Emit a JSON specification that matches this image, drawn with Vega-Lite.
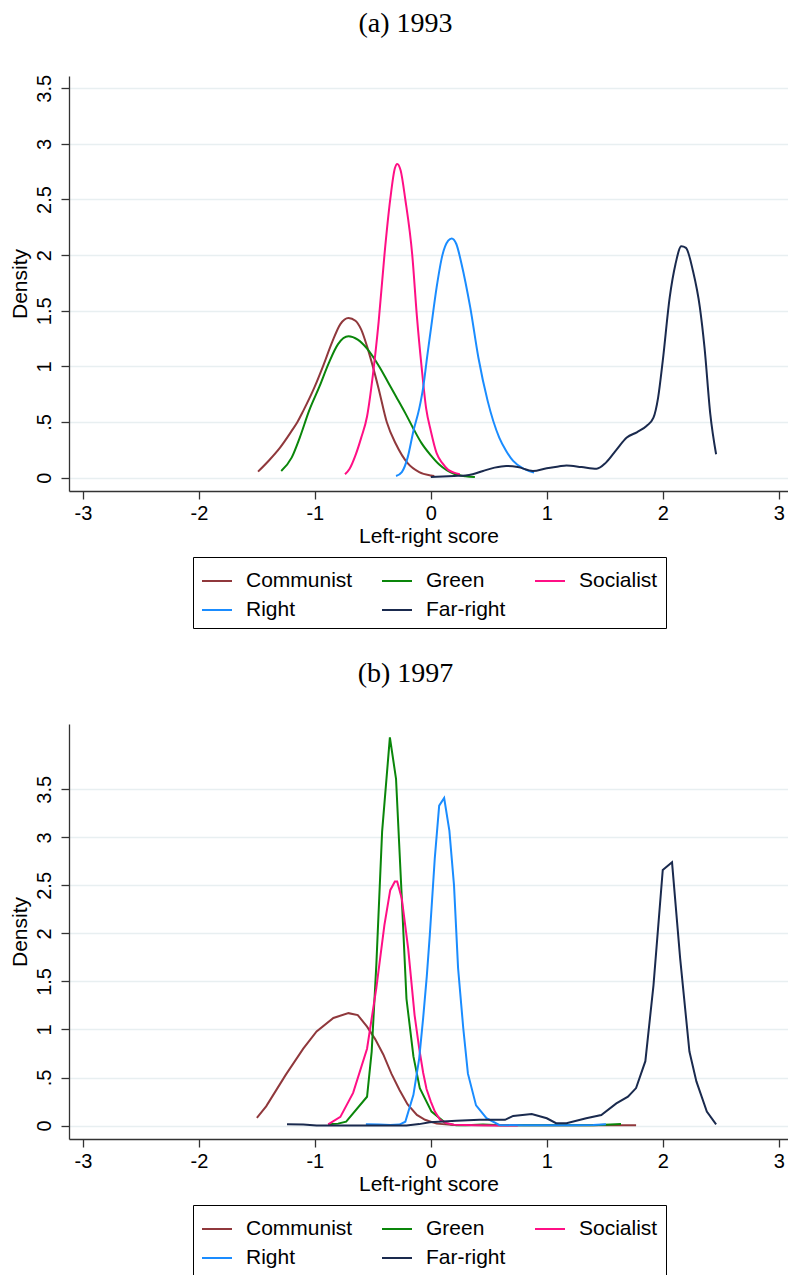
{
  "$schema": "https://vega.github.io/schema/vega-lite/v6.json",
  "background": "white",
  "padding": {"left": 9, "top": 10, "right": 0, "bottom": 0},
  "datasets": {
    "a": [
      {"p":"Communist","x":-1.49,"y":0.054},{"p":"Communist","x":-1.4,"y":0.15},{"p":"Communist","x":-1.3,"y":0.27},{"p":"Communist","x":-1.2,"y":0.42},{"p":"Communist","x":-1.15,"y":0.5},{"p":"Communist","x":-1.1,"y":0.6},{"p":"Communist","x":-1.0,"y":0.82},{"p":"Communist","x":-0.93,"y":1.0},{"p":"Communist","x":-0.85,"y":1.22},{"p":"Communist","x":-0.78,"y":1.38},{"p":"Communist","x":-0.71,"y":1.435},{"p":"Communist","x":-0.65,"y":1.41},{"p":"Communist","x":-0.6,"y":1.33},{"p":"Communist","x":-0.55,"y":1.18},{"p":"Communist","x":-0.5,"y":1.0},{"p":"Communist","x":-0.45,"y":0.8},{"p":"Communist","x":-0.38,"y":0.5},{"p":"Communist","x":-0.3,"y":0.3},{"p":"Communist","x":-0.2,"y":0.13},{"p":"Communist","x":-0.1,"y":0.05},{"p":"Communist","x":0.0,"y":0.02},{"p":"Communist","x":0.03,"y":0.015},
      {"p":"Green","x":-1.29,"y":0.06},{"p":"Green","x":-1.2,"y":0.18},{"p":"Green","x":-1.13,"y":0.36},{"p":"Green","x":-1.05,"y":0.6},{"p":"Green","x":-0.96,"y":0.82},{"p":"Green","x":-0.88,"y":1.03},{"p":"Green","x":-0.8,"y":1.2},{"p":"Green","x":-0.71,"y":1.27},{"p":"Green","x":-0.63,"y":1.24},{"p":"Green","x":-0.55,"y":1.16},{"p":"Green","x":-0.44,"y":0.99},{"p":"Green","x":-0.37,"y":0.86},{"p":"Green","x":-0.3,"y":0.73},{"p":"Green","x":-0.22,"y":0.58},{"p":"Green","x":-0.15,"y":0.44},{"p":"Green","x":-0.08,"y":0.31},{"p":"Green","x":0.0,"y":0.2},{"p":"Green","x":0.07,"y":0.12},{"p":"Green","x":0.14,"y":0.065},{"p":"Green","x":0.2,"y":0.035},{"p":"Green","x":0.3,"y":0.012},{"p":"Green","x":0.38,"y":0.005},
      {"p":"Socialist","x":-0.74,"y":0.03},{"p":"Socialist","x":-0.7,"y":0.08},{"p":"Socialist","x":-0.65,"y":0.2},{"p":"Socialist","x":-0.6,"y":0.36},{"p":"Socialist","x":-0.55,"y":0.55},{"p":"Socialist","x":-0.5,"y":0.92},{"p":"Socialist","x":-0.45,"y":1.4},{"p":"Socialist","x":-0.4,"y":2.0},{"p":"Socialist","x":-0.35,"y":2.5},{"p":"Socialist","x":-0.31,"y":2.78},{"p":"Socialist","x":-0.29,"y":2.82},{"p":"Socialist","x":-0.26,"y":2.76},{"p":"Socialist","x":-0.22,"y":2.5},{"p":"Socialist","x":-0.16,"y":2.0},{"p":"Socialist","x":-0.12,"y":1.45},{"p":"Socialist","x":-0.08,"y":1.0},{"p":"Socialist","x":-0.04,"y":0.62},{"p":"Socialist","x":0.0,"y":0.42},{"p":"Socialist","x":0.05,"y":0.22},{"p":"Socialist","x":0.1,"y":0.13},{"p":"Socialist","x":0.15,"y":0.07},{"p":"Socialist","x":0.2,"y":0.045},{"p":"Socialist","x":0.25,"y":0.03},
      {"p":"Right","x":-0.3,"y":0.015},{"p":"Right","x":-0.25,"y":0.05},{"p":"Right","x":-0.2,"y":0.18},{"p":"Right","x":-0.15,"y":0.42},{"p":"Right","x":-0.1,"y":0.62},{"p":"Right","x":-0.066,"y":0.81},{"p":"Right","x":-0.03,"y":1.1},{"p":"Right","x":0.0,"y":1.33},{"p":"Right","x":0.05,"y":1.71},{"p":"Right","x":0.1,"y":2.0},{"p":"Right","x":0.15,"y":2.13},{"p":"Right","x":0.18,"y":2.15},{"p":"Right","x":0.22,"y":2.1},{"p":"Right","x":0.265,"y":1.92},{"p":"Right","x":0.3,"y":1.75},{"p":"Right","x":0.34,"y":1.53},{"p":"Right","x":0.41,"y":1.08},{"p":"Right","x":0.49,"y":0.69},{"p":"Right","x":0.59,"y":0.36},{"p":"Right","x":0.65,"y":0.24},{"p":"Right","x":0.71,"y":0.15},{"p":"Right","x":0.8,"y":0.08},{"p":"Right","x":0.89,"y":0.045},
      {"p":"Far-right","x":0.0,"y":0.005},{"p":"Far-right","x":0.1,"y":0.01},{"p":"Far-right","x":0.2,"y":0.015},{"p":"Far-right","x":0.3,"y":0.02},{"p":"Far-right","x":0.36,"y":0.03},{"p":"Far-right","x":0.45,"y":0.06},{"p":"Far-right","x":0.55,"y":0.09},{"p":"Far-right","x":0.65,"y":0.105},{"p":"Far-right","x":0.75,"y":0.095},{"p":"Far-right","x":0.88,"y":0.06},{"p":"Far-right","x":1.0,"y":0.085},{"p":"Far-right","x":1.1,"y":0.1},{"p":"Far-right","x":1.17,"y":0.11},{"p":"Far-right","x":1.3,"y":0.095},{"p":"Far-right","x":1.43,"y":0.08},{"p":"Far-right","x":1.51,"y":0.135},{"p":"Far-right","x":1.6,"y":0.25},{"p":"Far-right","x":1.69,"y":0.36},{"p":"Far-right","x":1.78,"y":0.41},{"p":"Far-right","x":1.86,"y":0.465},{"p":"Far-right","x":1.92,"y":0.54},{"p":"Far-right","x":1.96,"y":0.72},{"p":"Far-right","x":2.0,"y":1.05},{"p":"Far-right","x":2.06,"y":1.62},{"p":"Far-right","x":2.11,"y":1.92},{"p":"Far-right","x":2.16,"y":2.08},{"p":"Far-right","x":2.2,"y":2.065},{"p":"Far-right","x":2.26,"y":1.86},{"p":"Far-right","x":2.32,"y":1.53},{"p":"Far-right","x":2.36,"y":1.17},{"p":"Far-right","x":2.41,"y":0.57},{"p":"Far-right","x":2.46,"y":0.21}
    ],
    "b": [
      {"p":"Communist","x":-1.5,"y":0.08},{"p":"Communist","x":-1.42,"y":0.2},{"p":"Communist","x":-1.25,"y":0.53},{"p":"Communist","x":-1.1,"y":0.8},{"p":"Communist","x":-0.985,"y":0.98},{"p":"Communist","x":-0.84,"y":1.12},{"p":"Communist","x":-0.71,"y":1.17},{"p":"Communist","x":-0.63,"y":1.15},{"p":"Communist","x":-0.55,"y":1.03},{"p":"Communist","x":-0.48,"y":0.9},{"p":"Communist","x":-0.41,"y":0.74},{"p":"Communist","x":-0.34,"y":0.54},{"p":"Communist","x":-0.27,"y":0.37},{"p":"Communist","x":-0.2,"y":0.22},{"p":"Communist","x":-0.12,"y":0.11},{"p":"Communist","x":-0.05,"y":0.06},{"p":"Communist","x":0.05,"y":0.02},{"p":"Communist","x":0.2,"y":0.005},{"p":"Communist","x":0.5,"y":0.002},{"p":"Communist","x":1.0,"y":0.002},{"p":"Communist","x":1.5,"y":0.003},{"p":"Communist","x":1.77,"y":0.003},
      {"p":"Green","x":-0.885,"y":0.013},{"p":"Green","x":-0.8,"y":0.02},{"p":"Green","x":-0.73,"y":0.04},{"p":"Green","x":-0.55,"y":0.3},{"p":"Green","x":-0.51,"y":0.77},{"p":"Green","x":-0.47,"y":1.67},{"p":"Green","x":-0.42,"y":3.06},{"p":"Green","x":-0.353,"y":4.04},{"p":"Green","x":-0.3,"y":3.61},{"p":"Green","x":-0.25,"y":2.36},{"p":"Green","x":-0.21,"y":1.32},{"p":"Green","x":-0.15,"y":0.72},{"p":"Green","x":-0.095,"y":0.39},{"p":"Green","x":0.006,"y":0.145},{"p":"Green","x":0.13,"y":0.024},{"p":"Green","x":0.22,"y":0.002},{"p":"Green","x":0.3,"y":0.003},{"p":"Green","x":0.45,"y":0.012},{"p":"Green","x":0.6,"y":0.003},{"p":"Green","x":1.0,"y":0.002},{"p":"Green","x":1.4,"y":0.003},{"p":"Green","x":1.55,"y":0.012},{"p":"Green","x":1.64,"y":0.017},
      {"p":"Socialist","x":-0.885,"y":0.013},{"p":"Socialist","x":-0.78,"y":0.09},{"p":"Socialist","x":-0.67,"y":0.34},{"p":"Socialist","x":-0.55,"y":0.8},{"p":"Socialist","x":-0.47,"y":1.43},{"p":"Socialist","x":-0.4,"y":2.09},{"p":"Socialist","x":-0.35,"y":2.45},{"p":"Socialist","x":-0.31,"y":2.54},{"p":"Socialist","x":-0.29,"y":2.54},{"p":"Socialist","x":-0.25,"y":2.36},{"p":"Socialist","x":-0.195,"y":1.84},{"p":"Socialist","x":-0.14,"y":1.15},{"p":"Socialist","x":-0.1,"y":0.8},{"p":"Socialist","x":-0.066,"y":0.55},{"p":"Socialist","x":-0.037,"y":0.38},{"p":"Socialist","x":0.0,"y":0.25},{"p":"Socialist","x":0.035,"y":0.145},{"p":"Socialist","x":0.08,"y":0.06},{"p":"Socialist","x":0.135,"y":0.024},{"p":"Socialist","x":0.2,"y":0.008},{"p":"Socialist","x":0.4,"y":0.002},{"p":"Socialist","x":0.6,"y":0.0},{"p":"Socialist","x":0.75,"y":0.0},
      {"p":"Right","x":-0.56,"y":0.013},{"p":"Right","x":-0.45,"y":0.01},{"p":"Right","x":-0.35,"y":0.005},{"p":"Right","x":-0.27,"y":0.01},{"p":"Right","x":-0.22,"y":0.04},{"p":"Right","x":-0.15,"y":0.32},{"p":"Right","x":-0.1,"y":0.7},{"p":"Right","x":-0.066,"y":1.12},{"p":"Right","x":-0.035,"y":1.55},{"p":"Right","x":-0.009,"y":1.98},{"p":"Right","x":0.034,"y":2.78},{"p":"Right","x":0.072,"y":3.33},{"p":"Right","x":0.115,"y":3.41},{"p":"Right","x":0.16,"y":3.07},{"p":"Right","x":0.2,"y":2.5},{"p":"Right","x":0.235,"y":1.64},{"p":"Right","x":0.28,"y":1.01},{"p":"Right","x":0.32,"y":0.54},{"p":"Right","x":0.39,"y":0.21},{"p":"Right","x":0.48,"y":0.076},{"p":"Right","x":0.59,"y":0.006},{"p":"Right","x":0.8,"y":0.002},{"p":"Right","x":1.0,"y":0.003},{"p":"Right","x":1.2,"y":0.004},{"p":"Right","x":1.4,"y":0.006},{"p":"Right","x":1.51,"y":0.013},
      {"p":"Far-right","x":-1.24,"y":0.013},{"p":"Far-right","x":-1.1,"y":0.01},{"p":"Far-right","x":-0.985,"y":0.0},{"p":"Far-right","x":-0.6,"y":0.0},{"p":"Far-right","x":-0.21,"y":0.0},{"p":"Far-right","x":-0.1,"y":0.015},{"p":"Far-right","x":-0.01,"y":0.035},{"p":"Far-right","x":0.22,"y":0.05},{"p":"Far-right","x":0.42,"y":0.06},{"p":"Far-right","x":0.64,"y":0.06},{"p":"Far-right","x":0.71,"y":0.1},{"p":"Far-right","x":0.87,"y":0.12},{"p":"Far-right","x":1.0,"y":0.076},{"p":"Far-right","x":1.08,"y":0.024},{"p":"Far-right","x":1.17,"y":0.024},{"p":"Far-right","x":1.34,"y":0.076},{"p":"Far-right","x":1.47,"y":0.11},{"p":"Far-right","x":1.6,"y":0.23},{"p":"Far-right","x":1.7,"y":0.3},{"p":"Far-right","x":1.77,"y":0.39},{"p":"Far-right","x":1.85,"y":0.67},{"p":"Far-right","x":1.92,"y":1.46},{"p":"Far-right","x":2.0,"y":2.66},{"p":"Far-right","x":2.08,"y":2.74},{"p":"Far-right","x":2.15,"y":1.74},{"p":"Far-right","x":2.23,"y":0.77},{"p":"Far-right","x":2.29,"y":0.46},{"p":"Far-right","x":2.38,"y":0.145},{"p":"Far-right","x":2.46,"y":0.013}
    ]
  },
  "spacing": 31,
  "vconcat": [
    {
      "title": {"text": "(a) 1993", "dx": -23},
      "width": 719,
      "height": 415,
      "data": {"name": "a"},
      "mark": {"type": "line", "strokeWidth": 2, "interpolate": "monotone"},
      "encoding": {
        "x": {"field": "x", "type": "quantitative", "title": "Left-right score", "scale": {"domain": [-3.12, 3.08], "nice": false, "zero": false},
              "axis": {"values": [-3,-2,-1,0,1,2,3], "labelExpr": "datum.value < 0 ? '-' + abs(datum.value) : '' + datum.value"}},
        "y": {"field": "y", "type": "quantitative", "title": "Density", "scale": {"domain": [-0.12, 3.61], "nice": false, "zero": false},
              "axis": {"values": [0,0.5,1,1.5,2,2.5,3,3.5], "labelExpr": "datum.value == 0.5 ? '.5' : format(datum.value, '~g')"}},
        "color": {"field": "p", "type": "nominal", "sort": null,
                  "scale": {"domain": ["Communist","Green","Socialist","Right","Far-right"], "range": ["#90383c","#0a860a","#ff0f85","#1a8cff","#1a2a4e"]},
                  "legend": {"orient": "none", "legendX": 124, "legendY": 481}}
      }
    },
    {
      "title": {"text": "(b) 1997", "dx": -23},
      "width": 719,
      "height": 415,
      "data": {"name": "b"},
      "mark": {"type": "line", "strokeWidth": 2},
      "encoding": {
        "x": {"field": "x", "type": "quantitative", "title": "Left-right score", "scale": {"domain": [-3.12, 3.08], "nice": false, "zero": false},
              "axis": {"values": [-3,-2,-1,0,1,2,3], "labelExpr": "datum.value < 0 ? '-' + abs(datum.value) : '' + datum.value"}},
        "y": {"field": "y", "type": "quantitative", "title": "Density", "scale": {"domain": [-0.14, 4.18], "nice": false, "zero": false},
              "axis": {"values": [0,0.5,1,1.5,2,2.5,3,3.5], "labelExpr": "datum.value == 0.5 ? '.5' : format(datum.value, '~g')"}},
        "color": {"field": "p", "type": "nominal", "sort": null,
                  "scale": {"domain": ["Communist","Green","Socialist","Right","Far-right"], "range": ["#90383c","#0a860a","#ff0f85","#1a8cff","#1a2a4e"]},
                  "legend": {"orient": "none", "legendX": 124, "legendY": 481}}
      }
    }
  ],
  "resolve": {"legend": {"color": "independent"}},
  "config": {
    "view": {"stroke": null},
    "font": "Liberation Sans",
    "title": {"font": "Liberation Serif", "fontSize": 28, "fontWeight": "normal", "color": "black", "anchor": "middle", "frame": "group", "offset": 36},
    "axis": {
      "labelFont": "Liberation Sans", "labelFontSize": 20, "labelColor": "black",
      "titleFont": "Liberation Sans", "titleFontSize": 21, "titleFontWeight": "normal", "titleColor": "black",
      "domainColor": "#333333", "domainWidth": 1.3, "tickColor": "#333333", "tickWidth": 1.3, "tickSize": 8,
      "labelPadding": 4
    },
    "axisX": {"grid": false, "titlePadding": 2, "labelFlush": false},
    "axisY": {"grid": true, "gridColor": "#e8eff1", "gridWidth": 1.5, "labelAngle": -90, "labelAlign": "center", "labelBaseline": "bottom", "labelPadding": 7, "titlePadding": 4},
    "legend": {
      "title": null, "direction": "horizontal", "columns": 3, "strokeColor": "black", "padding": 8,
      "columnPadding": 25, "rowPadding": 3, "symbolType": "stroke", "symbolSize": 900, "symbolStrokeWidth": 2,
      "labelFont": "Liberation Sans", "labelFontSize": 21, "labelColor": "black", "labelOffset": 13, "labelLimit": 0, "gridAlign": "each"
    }
  }
}
